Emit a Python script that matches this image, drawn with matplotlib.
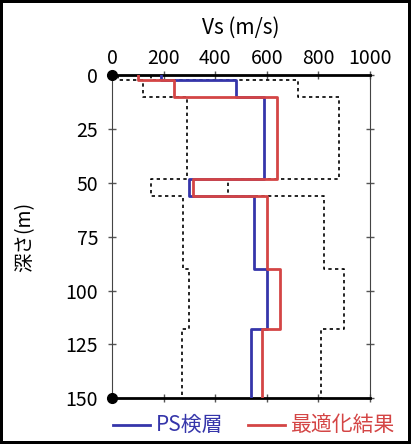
import matplotlib
matplotlib.use("Agg")
import matplotlib.pyplot as plt
import numpy as np

plt.rcParams['font.family'] = ['Noto Sans CJK JP', 'DejaVu Sans']

# 層境界 (m) と各層の Vs (m/s)
depth_bounds = [0, 2.3, 10, 48, 56, 90, 118, 150]
vs_ps = [190, 480, 590, 300, 550, 600, 540]       # PS検層
vs_opt = [100, 240, 640, 315, 600, 650, 580]      # 最適化結果
vs_lower = [25, 120, 290, 150, 275, 300, 270]     # 探索範囲 下限
vs_upper = [150, 720, 880, 450, 820, 900, 810]    # 探索範囲 上限

x_ticks = [0, 200, 400, 600, 800, 1000]
y_ticks = [0, 25, 50, 75, 100, 125, 150]


def profile(vs):
    # 層ごとの一定値を階段状の折れ線に変換
    d = np.asarray(depth_bounds, dtype=float)
    v = np.asarray(vs, dtype=float)
    y = np.repeat(d, 2)[1:-1]
    x = np.repeat(v, 2)
    return x, y


fig = plt.figure(figsize=(4.11, 4.44), dpi=100)
fig.patch.set_edgecolor('black')
fig.patch.set_linewidth(3)
ax = fig.add_axes([0.2725, 0.103, 0.628, 0.727])

for vs in (vs_lower, vs_upper):
    x, y = profile(vs)
    ax.plot(x, y, color='black', lw=1.2, ls=(0, (2, 2)), zorder=2)

x, y = profile(vs_ps)
ax.plot(x, y, color='#3535aa', lw=2, zorder=3)
x, y = profile(vs_opt)
ax.plot(x, y, color='#d44545', lw=2, zorder=3)

ax.plot([0, 0], [0, 150], 'o', color='black', ms=7, clip_on=False, zorder=5)

ax.set_xlim(0, 1000)
ax.set_ylim(150, 0)
ax.set_xticks(x_ticks)
ax.set_yticks(y_ticks)
ax.xaxis.tick_top()
ax.tick_params(axis='both', direction='inout', length=6, width=1, color='#555555',
               labelsize=14, top=True, bottom=True, left=True, right=True,
               labeltop=True, labelbottom=False, pad=2)
ax.tick_params(axis='y', pad=7)
ax.spines['top'].set_linewidth(2)
ax.spines['bottom'].set_linewidth(2)
ax.spines['left'].set_color('#444444')
ax.spines['right'].set_color('#444444')

ax.set_title('Vs (m/s)', fontsize=15, pad=30)
ax.set_ylabel('深さ(m)', fontsize=14, labelpad=22)

# 凡例 (線と色付き文字)
fig.add_artist(plt.Line2D([0.275, 0.365], [0.043, 0.043], color='#3535aa', lw=2))
fig.text(0.38, 0.043, 'PS検層', color='#3535aa', fontsize=15, va='center')
fig.add_artist(plt.Line2D([0.603, 0.693], [0.043, 0.043], color='#d44545', lw=2))
fig.text(0.708, 0.043, '最適化結果', color='#d44545', fontsize=15, va='center')

fig.savefig('out.png', dpi=100)
